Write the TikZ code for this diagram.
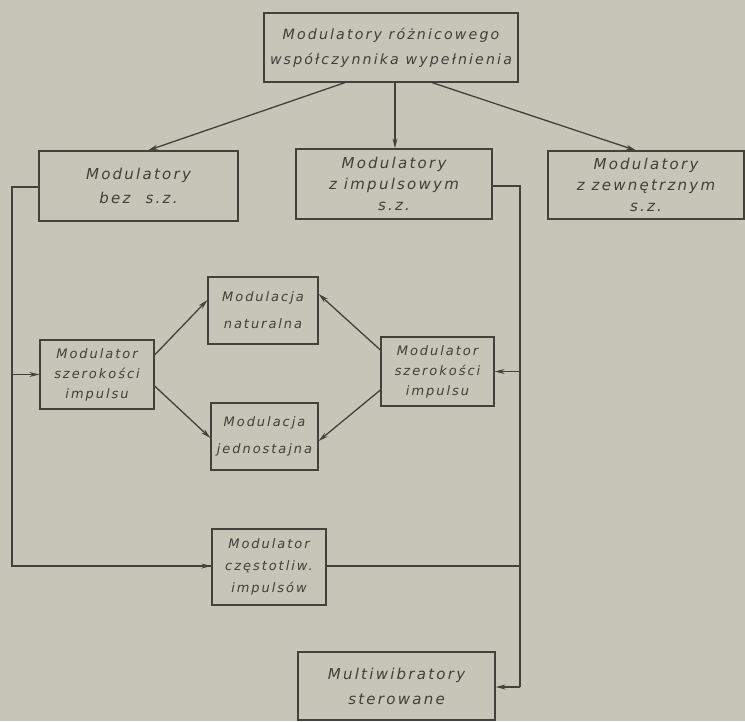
\documentclass[tikz,border=0pt]{standalone}
\usepackage{fontspec}
\setmainfont{DejaVu Sans}[LetterSpace=15]
\usetikzlibrary{arrows.meta}
\definecolor{paper}{RGB}{198,197,184}
\definecolor{ink}{RGB}{66,66,60}
\definecolor{txt}{RGB}{64,64,58}
\tikzset{
  box/.style={draw=ink, line width=1.2pt, rectangle, inner sep=0pt, align=center,
    text=txt, font=\fontsize{15}{24}\selectfont\itshape},
  sbox/.style={box, font=\fontsize{13}{20}\selectfont\itshape},
  wire/.style={draw=ink, line width=1.3pt},
  arr/.style={wire, -{Stealth[length=10pt,width=5pt]}},
}
\begin{document}
\begin{tikzpicture}[x=1pt,y=-1pt]
\fill[paper] (0,0) rectangle (745,721);
\useasboundingbox (0,0) rectangle (745,721);
\node[box, minimum width=254pt, minimum height=69pt, font=\fontsize{14.2}{25}\selectfont\itshape] (top) at (391,47.5)
  {Modulatory różnicowego\\współczynnika wypełnienia};
\node[box, minimum width=199pt, minimum height=70pt] (bez) at (138.5,186)
  {Modulatory\\bez\quad s.z.};
\node[box, minimum width=196pt, minimum height=70pt, font=\fontsize{15}{21}\selectfont\itshape] (imp) at (394,184)
  {Modulatory\\z impulsowym\\s.z.};
\node[box, minimum width=196pt, minimum height=68pt, font=\fontsize{15}{21}\selectfont\itshape] (zew) at (646,185)
  {Modulatory\\z zewnętrznym\\s.z.};
\node[sbox, minimum width=114pt, minimum height=69pt] (szL) at (97,374.5)
  {Modulator\\szerokości\\impulsu};
\node[sbox, minimum width=110pt, minimum height=67pt, font=\fontsize{13}{27}\selectfont\itshape] (nat) at (263,310.5)
  {Modulacja\\naturalna};
\node[sbox, minimum width=107pt, minimum height=67pt, font=\fontsize{13}{27}\selectfont\itshape] (jed) at (264.5,436.5)
  {Modulacja\\jednostajna};
\node[sbox, minimum width=113pt, minimum height=69pt] (szR) at (437.5,371.5)
  {Modulator\\szerokości\\impulsu};
\node[sbox, minimum width=114pt, minimum height=76pt, font=\fontsize{13}{22}\selectfont\itshape] (cze) at (269,567)
  {Modulator\\częstotliw.\\impulsów};
\node[box, minimum width=197pt, minimum height=68pt, font=\fontsize{15}{25}\selectfont\itshape] (mul) at (396.5,686)
  {Multiwibratory\\sterowane};
% buses
\coordinate (lb1) at (12,187);
\coordinate (lb2) at (12,566);
\coordinate (lbs) at (12,374.5);
\coordinate (rb1) at (520,186);
\coordinate (rb2) at (520,687);
\coordinate (rbs) at (520,371.5);
\coordinate (rbc) at (520,566);
% top arrows
\draw[arr] (top.south -| 345,0) -- (bez.north -| 148,0);
\draw[arr] (top.south -| 395,0) -- (imp.north -| 395,0);
\draw[arr] (top.south -| 432,0) -- (zew.north -| 636,0);
% left bus
\draw[wire] (bez.west |- lb1) -- (lb1) -- (lb2) -- (cze.west |- lb2);
\draw[arr] (lb2) -- (cze.west |- lb2);
\draw[arr] (lbs) -- (szL.west |- lbs);
% right bus
\draw[wire] (imp.east |- rb1) -- (rb1) -- (rb2);
\draw[arr] (rb2) -- (mul.east |- rb2);
\draw[arr] (rbs) -- (szR.east |- rbs);
\draw[wire] (cze.east |- rbc) -- (rbc);
% diamond arrows
\draw[arr] (szL.east |- 0,355) -- (nat.west |- 0,300);
\draw[arr] (szL.east |- 0,386) -- (jed.west |- 0,438);
\draw[arr] (szR.west |- 0,350) -- (nat.east |- 0,294);
\draw[arr] (szR.west |- 0,390) -- (jed.east |- 0,441);
\end{tikzpicture}
\end{document}
